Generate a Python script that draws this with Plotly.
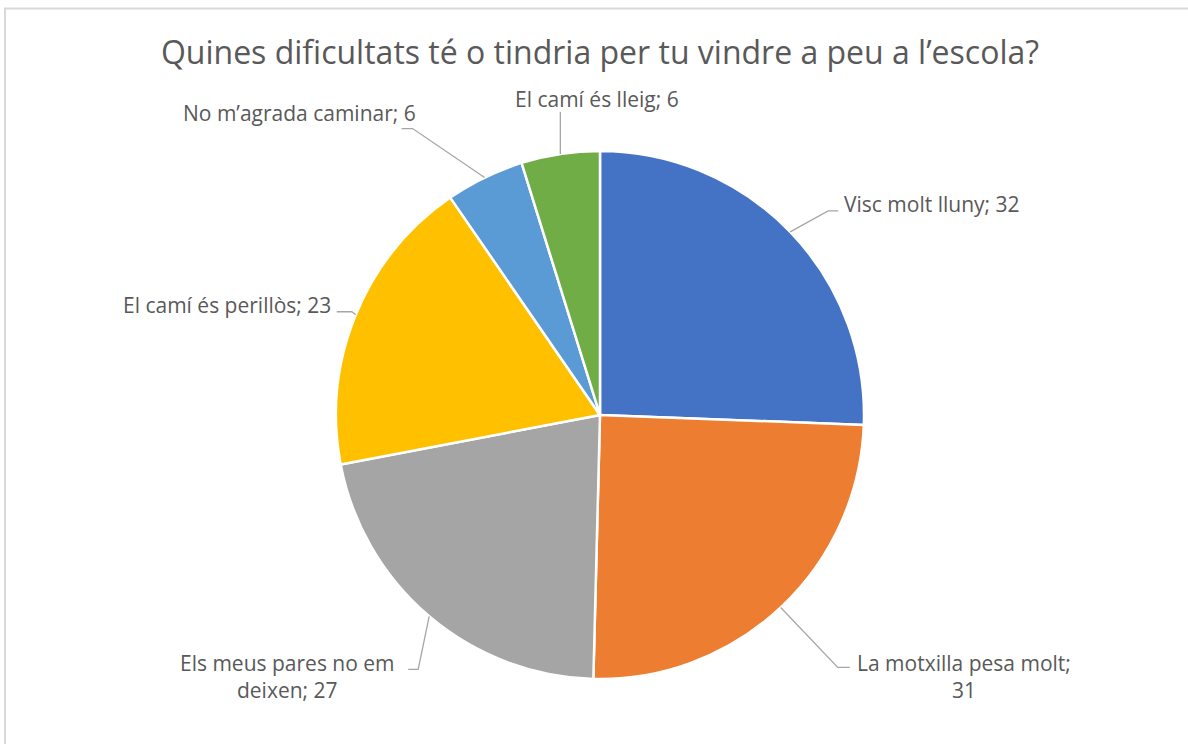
import math
import plotly.graph_objects as go

W, H = 1188, 744

# data
labels = ["Visc molt lluny", "La motxilla pesa molt", "Els meus pares no em deixen",
          "El camí és perillòs", "No m’agrada caminar", "El camí és lleig"]
values = [32, 31, 27, 23, 6, 6]
colors = ["#4472C4", "#ED7D31", "#A5A5A5", "#FFC000", "#5B9BD5", "#70AD47"]
title = "Quines dificultats té o tindria per tu vindre a peu a l’escola?"

# label text, with the line breaks the way Excel wrapped them
label_text = [
    f"{labels[0]}; {values[0]}",
    f"{labels[1]};<br>{values[1]}",
    "Els meus pares no em<br>deixen; " + str(values[2]),
    f"{labels[3]}; {values[3]}",
    f"{labels[4]}; {values[4]}",
    f"{labels[5]}; {values[5]}",
]

# pie geometry in pixels
cx, cy, R = 600, 415, 264

# leader line layout per slice: elbow offset from slice edge, horizontal tail,
# then label offset from end of leader line and anchor
elbow = [(38, -21), (57, 60), (-11, 53), (-4, -3), (-72, -49), (0, -42)]
tail = [10, 12, -10, -15, -11, 0]
lab_off = [(4, -7), (5, 9), (-11, 7), (-4, -7), (16, -16), (37, -13)]
lab_anchor = ["left", "left", "right", "right", "right", "center"]


def px(x):
    return x / W


def py(y):
    return 1 - y / H


fig = go.Figure()
fig.add_trace(go.Pie(
    labels=labels, values=values, sort=False, direction="clockwise", rotation=0,
    marker=dict(colors=colors, line=dict(color="white", width=2.5)),
    textinfo="none", hoverinfo="label+value", showlegend=False,
    domain=dict(x=[px(cx - R), px(cx + R)], y=[py(cy + R), py(cy - R)]),
))

total = sum(values)
cum = 0
shapes = []
annotations = []
for i, v in enumerate(values):
    mid = math.radians((cum + v / 2) / total * 360)
    cum += v
    ex, ey = cx + R * math.sin(mid), cy - R * math.cos(mid)
    bx, by = ex + elbow[i][0], ey + elbow[i][1]
    tx, ty = bx + tail[i], by
    path = f"M {px(ex)},{py(ey)} L {px(bx)},{py(by)} L {px(tx)},{py(ty)}"
    shapes.append(dict(type="path", path=path, xref="paper", yref="paper",
                       line=dict(color="#A6A6A6", width=1.3), layer="above"))
    annotations.append(dict(
        text=label_text[i], x=px(tx + lab_off[i][0]), y=py(ty + lab_off[i][1]),
        xref="paper", yref="paper", xanchor=lab_anchor[i], yanchor="middle",
        showarrow=False, align="center",
        font=dict(family="Open Sans", size=21, color="#595959"),
    ))

# chart area border: only the left and top edges are inside the picture
border = f"M {px(5)},-0.1 L {px(5)},{py(8.5)} L 1.1,{py(8.5)}"
shapes.append(dict(type="path", path=border, xref="paper", yref="paper",
                   line=dict(color="#D9D9D9", width=2), layer="below"))

fig.update_layout(
    width=W, height=H,
    margin=dict(l=0, r=0, t=0, b=0),
    paper_bgcolor="white", plot_bgcolor="white",
    title=dict(text=title, x=px(600), xanchor="center", y=py(53), yanchor="middle",
               font=dict(family="Open Sans", size=32, color="#595959")),
    shapes=shapes, annotations=annotations,
)

fig.write_html("out.html", config={"displayModeBar": False},
               post_script="document.body.style.margin='0';"
                           "document.body.style.overflow='hidden';")
